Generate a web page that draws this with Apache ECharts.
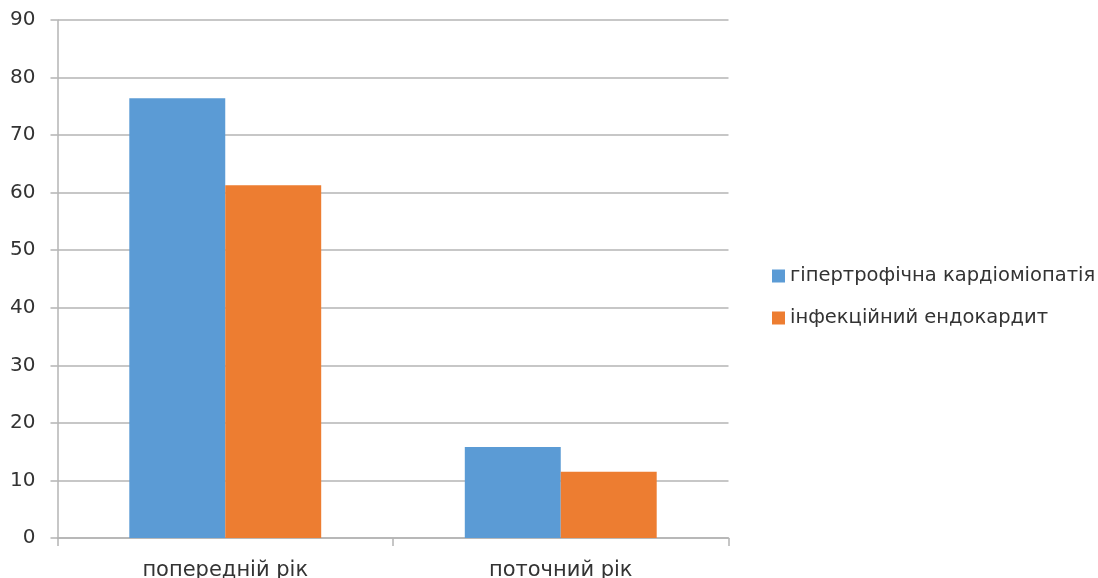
<!DOCTYPE html>
<html>
<head>
<meta charset="utf-8">
<script src="https://cdn.jsdelivr.net/npm/echarts@6/dist/echarts.min.js"></script>
<style>
  html, body { margin: 0; padding: 0; background: #fff; }
  #chart { width: 1098px; height: 578px; }
</style>
</head>
<body>
<div id="chart"></div>
<script>
// Categories and series values
const categories = ['попередній рік', 'поточний рік'];
const seriesNames = ['гіпертрофічна кардіоміопатія', 'інфекційний ендокардит'];
const hypertrophicValues = [76.4, 15.8];
const endocarditisValues = [61.3, 11.5];
const yTicks = { min: 0, max: 90, interval: 10 };

const textColor = '#333333';
const lineColor = '#b4b4b4';
const fontFamily = '"DejaVu Sans", "Open Sans", sans-serif';

const chart = echarts.init(document.getElementById('chart'));
chart.setOption({
  animation: false,
  color: ['#5B9BD5', '#ED7D31'],
  grid: {
    left: 57.5, right: 369.5, top: 20, bottom: 40,
    containLabel: false,
    outerBoundsMode: 'none'
  },
  legend: {
    orient: 'vertical',
    left: 767,
    top: 261,
    icon: 'rect',
    itemWidth: 13,
    itemHeight: 13,
    itemGap: 22,
    textStyle: { color: textColor, fontSize: 19.5, fontFamily: fontFamily },
    data: seriesNames
  },
  xAxis: {
    type: 'category',
    data: categories,
    axisLine: { lineStyle: { color: lineColor, width: 1.5 } },
    axisTick: { show: true, length: 8, lineStyle: { color: lineColor, width: 1.5 } },
    axisLabel: { color: textColor, fontSize: 21, fontFamily: fontFamily, margin: 22 }
  },
  yAxis: {
    type: 'value',
    min: yTicks.min,
    max: yTicks.max,
    interval: yTicks.interval,
    axisLine: { show: true, lineStyle: { color: lineColor, width: 1.5 } },
    axisTick: { show: true, length: 7, lineStyle: { color: lineColor, width: 1.5 } },
    splitLine: { lineStyle: { color: lineColor, width: 1.5 } },
    axisLabel: { color: textColor, fontSize: 20, fontFamily: fontFamily, margin: 22 }
  },
  series: [
    {
      name: seriesNames[0],
      type: 'bar',
      data: hypertrophicValues,
      barGap: '0%',
      barCategoryGap: '42.8%'
    },
    {
      name: seriesNames[1],
      type: 'bar',
      data: endocarditisValues,
      barGap: '0%',
      barCategoryGap: '42.8%'
    }
  ]
});
</script>
</body>
</html>
